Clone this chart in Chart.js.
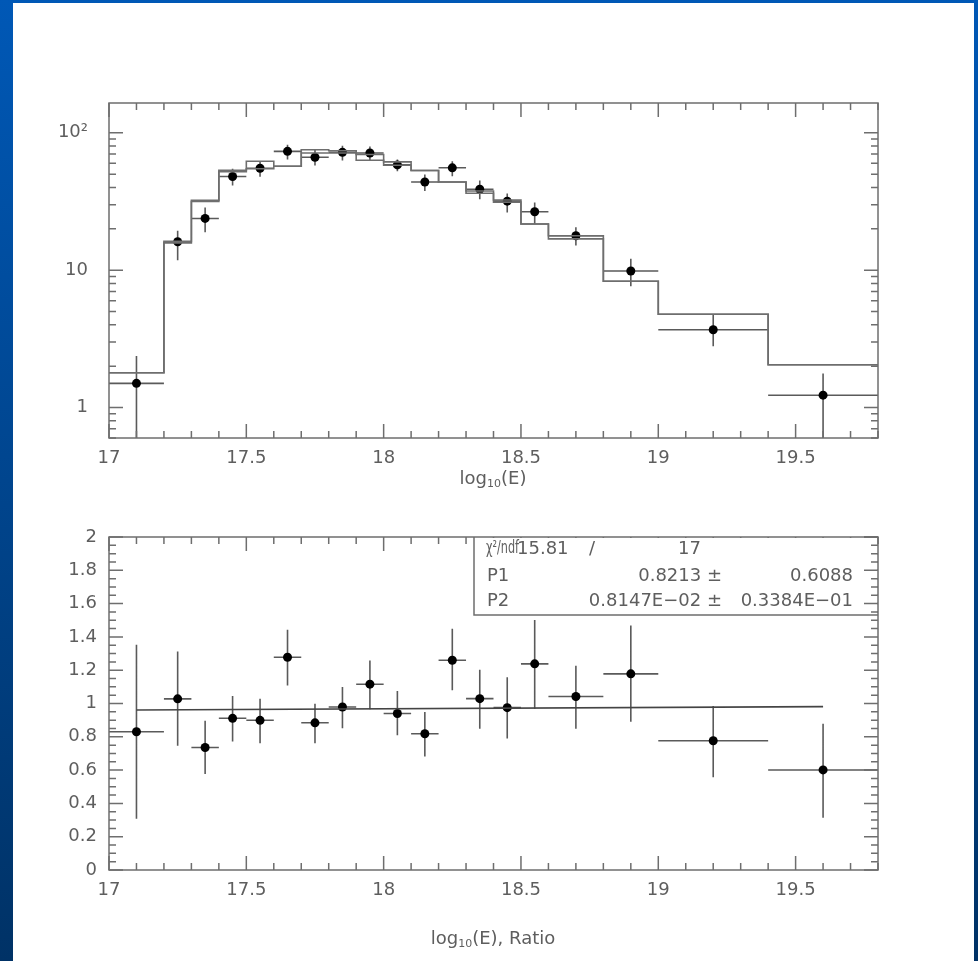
<!DOCTYPE html>
<html>
<head>
<meta charset="utf-8">
<script src="https://cdn.jsdelivr.net/npm/chart.js@4/dist/chart.umd.min.js"></script>
<style>
  html, body { margin: 0; padding: 0; }
  body { width: 978px; height: 961px; position: relative; overflow: hidden;
         background: linear-gradient(#0058b6, #003266); }
  #panel { position: absolute; left: 13px; top: 3px; width: 961px; height: 958px; background: #fff; }
  canvas { position: absolute; left: 0; }
  #spectrum { top: 0; }
  #ratio { top: 500px; }
</style>
</head>
<body>
<div id="panel"></div>
<canvas id="spectrum" width="978" height="500"></canvas>
<canvas id="ratio" width="978" height="461"></canvas>
<script>
// bin edges and centres in log10(E)
var binEdges = [17.0, 17.2, 17.3, 17.4, 17.5, 17.6, 17.7, 17.8, 17.9, 18.0, 18.1, 18.2, 18.3, 18.4, 18.5, 18.6, 18.8, 19.0, 19.4, 19.8];
var binCentres = [17.1, 17.25, 17.35, 17.45, 17.55, 17.65, 17.75, 17.85, 17.95, 18.05, 18.15, 18.25, 18.35, 18.45, 18.55, 18.7, 18.9, 19.2, 19.6];

// top panel: measured points with errors, two simulated histograms
var dataN = [1.5, 16.1, 23.8, 48.1, 55.2, 73.3, 66.4, 72.1, 71.3, 58.4, 43.8, 55.6, 38.8, 31.8, 26.6, 17.8, 9.87, 3.68, 1.23];
var dataHi = [2.37, 19.4, 28.6, 54.7, 62.0, 81.9, 75.4, 80.5, 79.5, 63.8, 49.8, 62.1, 45.0, 36.1, 31.1, 20.5, 12.1, 4.72, 1.77];
var dataLo = [0.5, 11.8, 18.9, 41.4, 47.9, 63.8, 57.8, 62.8, 63.5, 52.6, 37.7, 48.3, 32.8, 26.3, 21.7, 15.1, 7.64, 2.79, 0.5];
var simA = [1.79, 16.2, 32.3, 53.4, 62.1, 57.1, 75.3, 74.1, 69.5, 61.4, 53.2, 43.8, 37.7, 32.4, 21.7, 17.8, 8.3, 4.77, 2.05];
var simB = [1.79, 15.8, 31.6, 52.0, 54.7, 57.1, 71.3, 71.3, 63.1, 58.1, 53.2, 43.8, 36.3, 31.3, 21.7, 16.9, 8.3, 4.77, 2.05];

// bottom panel: ratio points with errors and the fitted line
var ratio = [0.83, 1.028, 0.736, 0.911, 0.899, 1.278, 0.884, 0.979, 1.116, 0.940, 0.818, 1.260, 1.029, 0.975, 1.238, 1.042, 1.178, 0.776, 0.601];
var ratioHi = [1.353, 1.313, 0.896, 1.045, 1.029, 1.443, 0.999, 1.099, 1.258, 1.075, 0.949, 1.449, 1.203, 1.158, 1.502, 1.227, 1.469, 0.985, 0.879];
var ratioLo = [0.308, 0.746, 0.577, 0.772, 0.762, 1.108, 0.762, 0.852, 0.965, 0.810, 0.682, 1.079, 0.849, 0.790, 0.969, 0.849, 0.890, 0.557, 0.314];
var fitX = [17.1, 19.6];
var fitY = [0.961, 0.981];

// tick labels
var xTicks = [17, 17.5, 18, 18.5, 19, 19.5];
var xTickLabels = ['17', '17.5', '18', '18.5', '19', '19.5'];
var logTicks = [1, 10, 100];
var logTickLabels = ['1', '10', '10\u00b2'];
var ratioTicks = [0, 0.2, 0.4, 0.6, 0.8, 1, 1.2, 1.4, 1.6, 1.8, 2];
var ratioTickLabels = ['0', '0.2', '0.4', '0.6', '0.8', '1', '1.2', '1.4', '1.6', '1.8', '2'];

var statLines = [
    ['\u03c7\u00b2/ndf', '15.81', '/', '17'],
    ['P1', '0.8213 \u00b1', '0.6088'],
    ['P2', '0.8147E\u221202 \u00b1', '0.3384E\u221201']
];

var ink = '#5e5e5e';
var lineGrey = '#6e6e6e';
var fontFamily = "'DejaVu Sans', sans-serif";
var fontSize = 18;

function steps(edges, vals) {
    var pts = [];
    for (var i = 0; i < vals.length; i++) pts.push({ x: edges[i], y: vals[i] });
    pts.push({ x: edges[edges.length - 1], y: vals[vals.length - 1] });
    return pts;
}

function points(xs, ys) {
    return xs.map(function (x, i) { return { x: x, y: ys[i] }; });
}

function tickValues(min, max, step) {
    var out = [];
    for (var v = min; v <= max + 1e-9; v += step) out.push(Math.round(v * 1000) / 1000);
    return out;
}

// frame, inward ticks on all four sides (PAW style)
var frameTicks = {
    id: 'frameTicks',
    afterDraw: function (chart, args, opts) {
        var ctx = chart.ctx, a = chart.chartArea;
        var xs = chart.scales.x, ys = chart.scales.y;
        ctx.save();
        ctx.strokeStyle = lineGrey;
        ctx.lineWidth = 1.5;
        ctx.strokeRect(a.left, a.top, a.right - a.left, a.bottom - a.top);
        ctx.beginPath();
        tickValues(17, 19.8, 0.1).forEach(function (v) {
            var px = xs.getPixelForValue(v);
            var len = (Math.abs(v * 2 - Math.round(v * 2)) < 1e-6) ? 14 : 7;
            ctx.moveTo(px, a.bottom); ctx.lineTo(px, a.bottom - len);
            ctx.moveTo(px, a.top); ctx.lineTo(px, a.top + len);
        });
        opts.yMinor.forEach(function (v) {
            if (v < ys.min || v > ys.max) return;
            var py = ys.getPixelForValue(v);
            var len = opts.yMajor.indexOf(v) >= 0 ? 14 : 7;
            ctx.moveTo(a.left, py); ctx.lineTo(a.left + len, py);
            ctx.moveTo(a.right, py); ctx.lineTo(a.right - len, py);
        });
        ctx.stroke();

        // axis title: log10(E) with a subscript
        ctx.fillStyle = ink;
        ctx.textBaseline = 'alphabetic';
        var big = fontSize + 'px ' + fontFamily, small = '11px ' + fontFamily;
        ctx.font = big;
        var w1 = ctx.measureText('log').width;
        var w3 = ctx.measureText(opts.titleTail).width;
        ctx.font = small;
        var w2 = ctx.measureText('10').width;
        var x0 = opts.titleX - (w1 + w2 + w3) / 2, y0 = opts.titleY;
        ctx.font = big; ctx.fillText('log', x0, y0);
        ctx.font = small; ctx.fillText('10', x0 + w1, y0 + 3);
        ctx.font = big; ctx.fillText(opts.titleTail, x0 + w1 + w2, y0);
        ctx.restore();
    }
};

// error bars under the markers
var errorBars = {
    id: 'errorBars',
    beforeDatasetsDraw: function (chart, args, opts) {
        var ctx = chart.ctx, a = chart.chartArea;
        var xs = chart.scales.x, ys = chart.scales.y;
        ctx.save();
        ctx.beginPath();
        ctx.rect(a.left, a.top, a.right - a.left, a.bottom - a.top);
        ctx.clip();
        ctx.strokeStyle = '#5a5a5a';
        ctx.lineWidth = 1.6;
        ctx.beginPath();
        for (var i = 0; i < binCentres.length; i++) {
            var px = xs.getPixelForValue(binCentres[i]);
            var py = ys.getPixelForValue(opts.y[i]);
            ctx.moveTo(xs.getPixelForValue(binEdges[i]), py);
            ctx.lineTo(xs.getPixelForValue(binEdges[i + 1]), py);
            ctx.moveTo(px, ys.getPixelForValue(opts.hi[i]));
            ctx.lineTo(px, ys.getPixelForValue(opts.lo[i]));
        }
        ctx.stroke();
        ctx.restore();
    }
};

// fit statistics box
var statBox = {
    id: 'statBox',
    afterDraw: function (chart) {
        var ctx = chart.ctx, a = chart.chartArea;
        var left = a.left + 365, bottom = a.top + 78;
        ctx.save();
        ctx.fillStyle = '#fff';
        ctx.fillRect(left, a.top + 1, a.right - left - 1, bottom - a.top - 1);
        ctx.strokeStyle = lineGrey;
        ctx.lineWidth = 1.5;
        ctx.beginPath();
        ctx.moveTo(left, a.top); ctx.lineTo(left, bottom); ctx.lineTo(a.right, bottom);
        ctx.stroke();
        // the right-hand ticks stay visible over the box
        ctx.beginPath();
        tickValues(1.55, 2, 0.05).forEach(function (v) {
            var py = chart.scales.y.getPixelForValue(v);
            var len = (Math.abs(v * 5 - Math.round(v * 5)) < 1e-6) ? 14 : 7;
            ctx.moveTo(a.right, py); ctx.lineTo(a.right - len, py);
        });
        ctx.stroke();
        ctx.fillStyle = ink;
        ctx.font = fontSize + 'px ' + fontFamily;
        ctx.textBaseline = 'middle';
        var rows = [a.top + 12, a.top + 39, a.top + 64];
        ctx.textAlign = 'left';
        ctx.font = '17px ' + fontFamily;
        ctx.fillText(statLines[0][0], a.left + 377, rows[0], 33);
        ctx.font = fontSize + 'px ' + fontFamily;
        ctx.fillText(statLines[0][1], a.left + 408, rows[0]);
        ctx.fillText(statLines[0][2], a.left + 480, rows[0]);
        ctx.fillText(statLines[0][3], a.left + 569, rows[0]);
        for (var r = 1; r < 3; r++) {
            ctx.textAlign = 'left';
            ctx.fillText(statLines[r][0], a.left + 378, rows[r]);
            ctx.textAlign = 'right';
            ctx.fillText(statLines[r][1], a.left + 613, rows[r]);
            ctx.fillText(statLines[r][2], a.left + 744, rows[r]);
        }
        ctx.restore();
    }
};

function baseOptions(yScale, padTop, xAxisHeight, extra) {
    return {
        responsive: false,
        animation: false,
        events: [],
        layout: { padding: { left: 0, right: 100, top: padTop, bottom: 0 } },
        plugins: Object.assign({ legend: { display: false }, tooltip: { enabled: false } }, extra),
        scales: {
            x: {
                type: 'linear',
                min: 17, max: 19.8,
                grid: { display: false, drawTicks: false },
                border: { display: false },
                afterFit: function (s) { s.height = xAxisHeight; },
                afterBuildTicks: function (s) { s.ticks = xTicks.map(function (v) { return { value: v }; }); },
                ticks: {
                    padding: 10,
                    color: ink,
                    font: { family: fontFamily, size: fontSize },
                    maxRotation: 0,
                    autoSkip: false,
                    callback: function (v) { return xTickLabels[xTicks.indexOf(v)]; }
                }
            },
            y: yScale
        }
    };
}

function onloadcharts() {
    var topCtx = document.getElementById('spectrum').getContext('2d');
    var botCtx = document.getElementById('ratio').getContext('2d');

    var logMinor = [];
    [0.1, 1, 10, 100].forEach(function (d) {
        for (var m = 1; m <= 9; m++) logMinor.push(Math.round(m * d * 1000) / 1000);
    });

    new Chart(topCtx, {
        data: {
            datasets: [
                { type: 'line', data: steps(binEdges, simA), stepped: 'before', borderColor: lineGrey, borderWidth: 1.6, pointRadius: 0, fill: false },
                { type: 'line', data: steps(binEdges, simB), stepped: 'before', borderColor: lineGrey, borderWidth: 1.6, pointRadius: 0, fill: false },
                { type: 'scatter', data: points(binCentres, dataN), pointRadius: 4.5, backgroundColor: '#000', borderWidth: 0 }
            ]
        },
        options: baseOptions({
            type: 'logarithmic',
            min: 0.628, max: 164.8,
            grid: { display: false, drawTicks: false },
            border: { display: false },
            afterFit: function (s) { s.width = 109; },
            afterBuildTicks: function (s) { s.ticks = logTicks.map(function (v) { return { value: v }; }); },
            ticks: {
                padding: 21,
                color: ink,
                font: { family: fontFamily, size: fontSize },
                autoSkip: false,
                callback: function (v) { return logTickLabels[logTicks.indexOf(v)]; }
            }
        }, 103, 62, {
            errorBars: { y: dataN, hi: dataHi, lo: dataLo },
            frameTicks: { yMinor: logMinor, yMajor: logTicks, titleX: 493, titleY: 484, titleTail: '(E)' }
        }),
        plugins: [errorBars, frameTicks]
    });

    new Chart(botCtx, {
        data: {
            datasets: [
                { type: 'line', data: points(fitX, fitY), borderColor: '#444', borderWidth: 1.6, pointRadius: 0, fill: false },
                { type: 'scatter', data: points(binCentres, ratio), pointRadius: 4.5, backgroundColor: '#000', borderWidth: 0 }
            ]
        },
        options: baseOptions({
            type: 'linear',
            min: 0, max: 2,
            grid: { display: false, drawTicks: false },
            border: { display: false },
            afterFit: function (s) { s.width = 109; },
            afterBuildTicks: function (s) { s.ticks = ratioTicks.map(function (v) { return { value: v }; }); },
            ticks: {
                padding: 12,
                color: ink,
                font: { family: fontFamily, size: fontSize },
                autoSkip: false,
                callback: function (v) { return ratioTickLabels[ratioTicks.indexOf(v)]; }
            }
        }, 37, 91, {
            errorBars: { y: ratio, hi: ratioHi, lo: ratioLo },
            frameTicks: { yMinor: tickValues(0, 2, 0.05), yMajor: ratioTicks, titleX: 493, titleY: 444, titleTail: '(E), Ratio' }
        }),
        plugins: [errorBars, frameTicks, statBox]
    });
}

window.onload = onloadcharts;
</script>
</body>
</html>
